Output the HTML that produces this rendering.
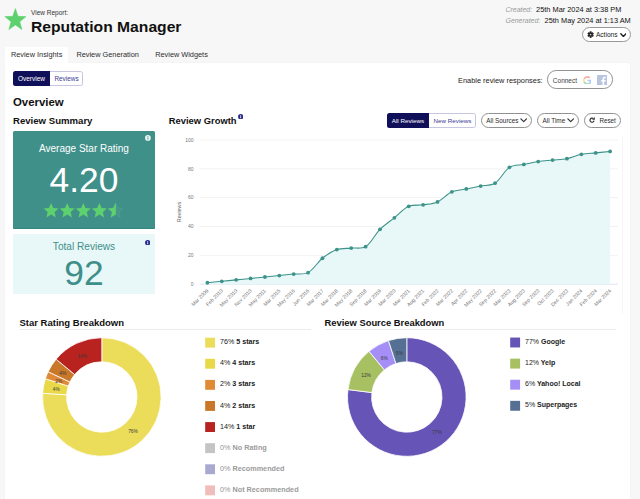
<!DOCTYPE html>
<html><head><meta charset="utf-8">
<style>
html,body{margin:0;padding:0;}
body{width:640px;height:499px;overflow:hidden;background:#f7f7f7;font-family:"Liberation Sans",sans-serif;color:#111;position:relative;}
.abs{position:absolute;white-space:nowrap;}
.card{left:5px;top:62.5px;width:625px;height:440px;background:#fff;border-radius:0 2px 0 0;box-shadow:0 0 2px rgba(0,0,0,0.05);}
.tab{top:45.5px;height:18px;line-height:18px;font-size:7.35px;color:#2e2e2e;}
.h1{font-weight:bold;font-size:14px;left:31px;top:16.7px;line-height:20px;color:#111;transform:scaleX(1.118);transform-origin:0 0;}
.h2{font-weight:bold;font-size:11.4px;line-height:12px;}
.h3{font-weight:bold;font-size:9.5px;line-height:11px;}
.pill{border:1px solid #919191;border-radius:9px;background:#fff;box-sizing:border-box;}
.pt{font-size:6.4px;line-height:9px;color:#2a2a2a;}
.lg{font-size:7.15px;font-weight:bold;line-height:11px;color:#222;}
.lg i{font-style:normal;font-weight:normal;color:#222}
.lg.r{font-size:7.0px;}
.lg.off{color:#949494;font-weight:normal;font-size:7.25px;}.lg.off b{color:#9b9b9b}
.sq{width:10px;height:10px;}
.tg{font-size:6.3px;line-height:15px;text-align:center;}
</style></head><body>
<!-- header -->
<svg class="abs" style="left:0;top:0" width="32" height="36" viewBox="0 0 32 36"><path d="M15.40,8.55 L18.10,16.33 L26.05,16.60 L19.77,21.68 L21.98,29.62 L15.40,24.98 L8.82,29.62 L11.03,21.68 L4.75,16.60 L12.70,16.33 Z" fill="#5fd06e" stroke="#5fd06e" stroke-width="0.5" stroke-linejoin="round"/></svg>
<div class="abs" style="left:31px;top:8.6px;font-size:6.5px;line-height:8px;color:#333">View Report:</div>
<div class="abs h1">Reputation Manager</div>
<div class="abs" style="left:505.5px;top:4.8px;font-size:7.38px;line-height:10px;"><span style="color:#999;font-style:italic;font-size:6.95px;">Created:</span><span style="display:inline-block;width:4px"></span>25th Mar 2024 at 3:38 PM</div>
<div class="abs" style="left:505.5px;top:15.7px;font-size:7.38px;line-height:10px;"><span style="color:#999;font-style:italic;font-size:6.95px;">Generated:</span><span style="display:inline-block;width:4.4px"></span>25th May 2024 at 1:13 AM</div>
<div class="abs pill" style="left:581.9px;top:27.3px;width:49.3px;height:14.4px;border-color:#989898"></div>
<svg class="abs" style="left:586.6px;top:30.7px" width="7.2" height="7.2" viewBox="0 0 24 24"><path fill="#222" fill-rule="evenodd" stroke="#222" stroke-width="1.4" stroke-linejoin="round" d="M19.46,13.45 L21.95,15.04 L19.61,19.09 L16.99,17.74 L14.47,19.19 L14.34,22.13 L9.66,22.13 L9.53,19.19 L7.01,17.74 L4.39,19.09 L2.05,15.04 L4.54,13.45 L4.54,10.55 L2.05,8.96 L4.39,4.91 L7.01,6.26 L9.53,4.81 L9.66,1.87 L14.34,1.87 L14.47,4.81 L16.99,6.26 L19.61,4.91 L21.95,8.96 L19.46,10.55 Z M9.10,12 a2.90,2.90 0 1,0 5.80,0 a2.90,2.90 0 1,0 -5.80,0 Z"/></svg>
<div class="abs" style="left:595.9px;top:30px;font-size:6.6px;line-height:9px;color:#222">Actions</div>
<svg class="abs" style="left:619.7px;top:32.8px" width="6.8" height="4.6" viewBox="0 0 7.4 5"><path d="M0.9 0.9 L3.7 3.7 L6.5 0.9" fill="none" stroke="#222" stroke-width="1.55" stroke-linecap="round" stroke-linejoin="round"/></svg>
<!-- tabs -->
<div class="abs" style="left:5px;top:47px;width:63px;height:17px;background:#fff;border-radius:2px 2px 0 0;"></div>
<div class="abs tab" style="left:10.9px;">Review Insights</div>
<div class="abs tab" style="left:76.4px;">Review Generation</div>
<div class="abs tab" style="left:155.2px;">Review Widgets</div>
<div class="abs card"></div>
<!-- toggles -->
<div class="abs" style="left:13px;top:70.6px;width:70px;height:15.6px;box-sizing:border-box;border:1px solid #c6c6e0;border-radius:2.5px;background:#fff;"></div>
<div class="abs tg" style="left:13px;top:70.6px;width:37px;height:15.6px;background:#10105a;border-radius:2.5px 0 0 2.5px;color:#fff;line-height:15.6px;font-size:6.5px">Overview</div>
<div class="abs tg" style="left:50px;top:70.6px;width:33px;height:15.6px;color:#3a3a94;line-height:15.6px;font-size:6.4px">Reviews</div>
<div class="abs" style="left:458px;top:75.8px;font-size:7.4px;line-height:10px;color:#222">Enable review responses:</div>
<div class="abs pill" style="left:547.2px;top:70.3px;width:66px;height:18.6px;border-radius:9.2px;border-color:#939393"></div>
<div class="abs" style="left:552.8px;top:75.5px;font-size:6.53px;line-height:9px;color:#444">Connect</div>
<!-- google G -->
<svg class="abs" style="left:582.7px;top:75.5px;opacity:0.42" width="8.8" height="8.8" viewBox="0 0 48 48"><path fill="#EA4335" d="M24 9.500c3.540 0 6.710 1.220 9.210 3.600l6.850-6.850C35.900 2.380 30.470 0 24 0 14.620 0 6.510 5.380 2.560 13.220l7.980 6.190C12.430 13.720 17.740 9.500 24 9.500z"/><path fill="#4285F4" d="M46.980 24.550c0-1.570-.15-3.090-.38-4.550H24v9.020h12.940c-.58 2.960-2.260 5.480-4.780 7.180l7.730 6c4.510-4.180 7.090-10.360 7.090-17.650z"/><path fill="#FBBC05" d="M10.530 28.590c-.48-1.450-.76-2.990-.76-4.590s.27-3.140.76-4.590l-7.980-6.190C.92 16.460 0 20.120 0 24c0 3.880.92 7.540 2.560 10.780l7.970-6.190z"/><path fill="#34A853" d="M24 48c6.480 0 11.930-2.130 15.890-5.810l-7.730-6c-2.150 1.450-4.920 2.300-8.160 2.300-6.260 0-11.570-4.220-13.470-9.910l-7.980 6.190C6.510 42.620 14.620 48 24 48z"/></svg>
<!-- fb -->
<svg class="abs" style="left:597px;top:74.6px" width="10.4" height="10.4" viewBox="0 0 20 20"><rect width="20" height="20" rx="0.8" fill="#b9c4de"/><path fill="#fff" d="M13.700 20v-7.600h2.600l.4-3h-3V7.500c0-.9.250-1.450 1.500-1.450h1.600V3.400c-.280-.040-1.230-.120-2.330-.120-2.300 0-3.870 1.400-3.870 3.980V9.400H8v3h2.600V20z"/></svg>
<div class="abs h2" style="left:13px;top:96px;">Overview</div>
<div class="abs h3" style="left:13px;top:114.9px;font-size:9.6px">Review Summary</div>
<!-- teal card -->
<div class="abs" style="left:13px;top:130.8px;width:142.1px;height:98.4px;background:#40908a;border-radius:1.5px;box-shadow:inset 0 -1px 0 #2f877f;"></div>
<div class="abs" style="left:13px;top:142.3px;width:142px;text-align:center;color:#fff;font-size:10px;line-height:13px;">Average Star Rating</div>
<div class="abs" style="left:13px;top:160.6px;width:142px;text-align:center;color:#fff;font-size:35.4px;line-height:38px;">4.20</div>
<svg class="abs" style="left:144.9px;top:135.1px" width="5.8" height="5.8" viewBox="0 0 10 10"><circle cx="5" cy="5" r="4.900" fill="#eef6f5"/><rect x="4.200" y="4.200" width="1.600" height="3.600" fill="#40908a"/><rect x="4.200" y="2.200" width="1.600" height="1.400" fill="#40908a"/></svg>
<svg class="abs" style="left:43px;top:201px" width="86" height="18" viewBox="-0.6 -1.4 86 18">
<defs><path id="st" d="M7.500 0.600 L9.700 5.600 L15 6.100 L11 9.700 L12.200 15 L7.500 12.200 L2.800 15 L4 9.700 L0 6.100 L5.300 5.600 Z"/>
<clipPath id="half"><rect x="0" y="0" width="7.900" height="16"/></clipPath></defs>
<use href="#st" x="0" fill="#5fd06e"/><use href="#st" x="16.100" fill="#5fd06e"/><use href="#st" x="32.200" fill="#5fd06e"/><use href="#st" x="48.300" fill="#5fd06e"/>
<g transform="translate(64.400,0)"><use href="#st" fill="#45978a" stroke="#4ba38d" stroke-width="0.6"/><use href="#st" fill="#5fd06e" clip-path="url(#half)"/></g>
</svg>
<!-- total card -->
<div class="abs" style="left:13px;top:234.2px;width:142.1px;height:60px;background:#e8f7f8;border-radius:1.5px;"></div>
<div class="abs" style="left:13px;top:239.900px;width:142px;text-align:center;color:#3f8f89;font-size:10.1px;line-height:13px;">Total Reviews</div>
<div class="abs" style="left:13px;top:253.9px;width:142px;text-align:center;color:#3f8f89;font-size:35.4px;line-height:38px;">92</div>
<svg class="abs" style="left:144.8px;top:239.600px" width="5.4" height="5.4" viewBox="0 0 10 10"><circle cx="5" cy="5" r="4.900" fill="#2b2b8c"/><rect x="4.200" y="4.200" width="1.600" height="3.600" fill="#fff"/><rect x="4.200" y="2.200" width="1.600" height="1.400" fill="#fff"/></svg>
<!-- growth -->
<div class="abs h3" style="left:168.8px;top:114.9px;font-size:9.4px">Review Growth</div>
<svg class="abs" style="left:237.5px;top:113.7px" width="5.4" height="5.4" viewBox="0 0 10 10"><circle cx="5" cy="5" r="4.900" fill="#2b2b8c"/><rect x="4.200" y="4.200" width="1.600" height="3.600" fill="#fff"/><rect x="4.200" y="2.200" width="1.600" height="1.400" fill="#fff"/></svg>
<div class="abs" style="left:387px;top:113.100px;width:89.300px;height:14.700px;box-sizing:border-box;border:1px solid #c6c6e0;border-radius:2.500px;background:#fff;"></div>
<div class="abs tg" style="left:387px;top:113.100px;width:41.800px;height:14.700px;background:#10105a;border-radius:2.500px 0 0 2.500px;color:#fff;line-height:16px;font-size:6.25px">All Reviews</div>
<div class="abs tg" style="left:428.800px;top:113.100px;width:47.500px;height:14.700px;color:#3a3a94;line-height:16px;font-size:6.25px">New Reviews</div>
<div class="abs pill" style="left:480.600px;top:113.200px;width:51.600px;height:14.400px;"></div>
<div class="abs pt" style="left:486.3px;top:115.9px;font-size:6.35px">All Sources</div>
<svg class="abs" style="left:519.600px;top:118.300px" width="7.400" height="5" viewBox="0 0 7.400 5"><path d="M0.900 0.900 L3.700 3.700 L6.500 0.900" fill="none" stroke="#333" stroke-width="1.200" stroke-linecap="round" stroke-linejoin="round"/></svg>
<div class="abs pill" style="left:536.800px;top:113.200px;width:42.400px;height:14.400px;"></div>
<div class="abs pt" style="left:542.500px;top:115.900px;">All Time</div>
<svg class="abs" style="left:566.600px;top:118.300px" width="7.400" height="5" viewBox="0 0 7.400 5"><path d="M0.900 0.900 L3.700 3.700 L6.500 0.900" fill="none" stroke="#333" stroke-width="1.200" stroke-linecap="round" stroke-linejoin="round"/></svg>
<div class="abs pill" style="left:583.600px;top:113.200px;width:37.300px;height:14.400px;"></div>
<svg class="abs" style="left:589px;top:117.200px" width="6" height="6" viewBox="0 0 12 12"><path d="M8.900 3.400 A4.100 4.100 0 1 0 10.100 7.200" fill="none" stroke="#333" stroke-width="2.300"/><path d="M6.200 5.300 L11.600 5.300 L11.600 0 Z" fill="#333"/></svg>
<div class="abs pt" style="left:599.4px;top:115.9px;font-size:6.3px">Reset</div>
<div class="abs" style="left:622px;top:135.600px;width:1px;height:178.700px;background:#f6f6f6"></div>
<svg class="abs" style="left:0;top:0" width="640" height="499" viewBox="0 0 640 499">
<line x1="199.5" x2="618" y1="284.2" y2="284.2" stroke="#dfe4ee" stroke-width="1"/>
<text x="193.5" y="286.0" font-size="5" fill="#777" text-anchor="end" font-family="Liberation Sans">0</text>
<line x1="199.5" x2="618" y1="255.3" y2="255.3" stroke="#f2f2f2" stroke-width="1"/>
<text x="193.5" y="257.1" font-size="5" fill="#777" text-anchor="end" font-family="Liberation Sans">20</text>
<line x1="199.5" x2="618" y1="226.5" y2="226.5" stroke="#f2f2f2" stroke-width="1"/>
<text x="193.5" y="228.3" font-size="5" fill="#777" text-anchor="end" font-family="Liberation Sans">40</text>
<line x1="199.5" x2="618" y1="197.6" y2="197.6" stroke="#f2f2f2" stroke-width="1"/>
<text x="193.5" y="199.4" font-size="5" fill="#777" text-anchor="end" font-family="Liberation Sans">60</text>
<line x1="199.5" x2="618" y1="168.8" y2="168.8" stroke="#f2f2f2" stroke-width="1"/>
<text x="193.5" y="170.6" font-size="5" fill="#777" text-anchor="end" font-family="Liberation Sans">80</text>
<line x1="199.5" x2="618" y1="139.9" y2="139.9" stroke="#f2f2f2" stroke-width="1"/>
<text x="193.5" y="141.7" font-size="5" fill="#777" text-anchor="end" font-family="Liberation Sans">100</text>
<text transform="translate(180.6,212) rotate(-90)" font-size="5.4" fill="#666" text-anchor="middle" font-family="Liberation Sans">Reviews</text>
<path d="M207.40,282.76 C212.15,282.28 217.04,281.79 221.78,281.31 C226.53,280.84 231.42,280.35 236.16,279.87 C240.91,279.39 245.80,278.90 250.55,278.43 C255.29,277.95 260.18,277.46 264.93,276.99 C269.67,276.51 274.56,276.02 279.31,275.54 C284.06,275.07 288.95,274.58 293.69,274.10 C298.44,273.62 304.14,274.83 308.08,272.66 C313.63,269.59 317.25,262.40 322.46,258.23 C326.75,254.78 331.74,251.36 336.84,249.57 C341.23,248.03 346.48,248.60 351.22,248.12 C355.97,247.65 361.89,249.10 365.60,246.68 C371.38,242.91 374.77,234.60 379.99,229.37 C384.26,225.08 389.62,221.63 394.37,217.82 C399.11,214.01 403.43,208.68 408.75,206.28 C412.92,204.39 418.42,205.54 423.13,204.83 C427.91,204.12 433.20,203.90 437.51,201.95 C442.69,199.61 446.72,194.18 451.90,191.85 C456.21,189.90 461.53,189.91 466.28,188.96 C471.02,188.01 475.91,187.03 480.66,186.08 C485.41,185.12 491.18,185.71 495.04,183.19 C500.68,179.52 503.79,170.99 509.43,167.32 C513.28,164.80 519.06,165.38 523.81,164.43 C528.55,163.48 533.41,162.26 538.19,161.55 C542.90,160.84 547.83,160.58 552.57,160.10 C557.32,159.63 562.30,159.59 566.95,158.66 C571.79,157.69 576.50,155.30 581.34,154.33 C585.99,153.40 590.97,153.36 595.72,152.89 C600.46,152.41 605.35,151.92 610.10,151.44 L610.10,284.20 L207.40,284.20 Z" fill="#e8f7f8"/>
<path d="M207.40,282.76 C212.15,282.28 217.04,281.79 221.78,281.31 C226.53,280.84 231.42,280.35 236.16,279.87 C240.91,279.39 245.80,278.90 250.55,278.43 C255.29,277.95 260.18,277.46 264.93,276.99 C269.67,276.51 274.56,276.02 279.31,275.54 C284.06,275.07 288.95,274.58 293.69,274.10 C298.44,273.62 304.14,274.83 308.08,272.66 C313.63,269.59 317.25,262.40 322.46,258.23 C326.75,254.78 331.74,251.36 336.84,249.57 C341.23,248.03 346.48,248.60 351.22,248.12 C355.97,247.65 361.89,249.10 365.60,246.68 C371.38,242.91 374.77,234.60 379.99,229.37 C384.26,225.08 389.62,221.63 394.37,217.82 C399.11,214.01 403.43,208.68 408.75,206.28 C412.92,204.39 418.42,205.54 423.13,204.83 C427.91,204.12 433.20,203.90 437.51,201.95 C442.69,199.61 446.72,194.18 451.90,191.85 C456.21,189.90 461.53,189.91 466.28,188.96 C471.02,188.01 475.91,187.03 480.66,186.08 C485.41,185.12 491.18,185.71 495.04,183.19 C500.68,179.52 503.79,170.99 509.43,167.32 C513.28,164.80 519.06,165.38 523.81,164.43 C528.55,163.48 533.41,162.26 538.19,161.55 C542.90,160.84 547.83,160.58 552.57,160.10 C557.32,159.63 562.30,159.59 566.95,158.66 C571.79,157.69 576.50,155.30 581.34,154.33 C585.99,153.40 590.97,153.36 595.72,152.89 C600.46,152.41 605.35,151.92 610.10,151.44" fill="none" stroke="#3c9389" stroke-width="1.05"/>
<circle cx="207.40" cy="282.76" r="1.9" fill="#3c9389"/>
<circle cx="221.78" cy="281.31" r="1.9" fill="#3c9389"/>
<circle cx="236.16" cy="279.87" r="1.9" fill="#3c9389"/>
<circle cx="250.55" cy="278.43" r="1.9" fill="#3c9389"/>
<circle cx="264.93" cy="276.99" r="1.9" fill="#3c9389"/>
<circle cx="279.31" cy="275.54" r="1.9" fill="#3c9389"/>
<circle cx="293.69" cy="274.10" r="1.9" fill="#3c9389"/>
<circle cx="308.08" cy="272.66" r="1.9" fill="#3c9389"/>
<circle cx="322.46" cy="258.23" r="1.9" fill="#3c9389"/>
<circle cx="336.84" cy="249.57" r="1.9" fill="#3c9389"/>
<circle cx="351.22" cy="248.12" r="1.9" fill="#3c9389"/>
<circle cx="365.60" cy="246.68" r="1.9" fill="#3c9389"/>
<circle cx="379.99" cy="229.37" r="1.9" fill="#3c9389"/>
<circle cx="394.37" cy="217.82" r="1.9" fill="#3c9389"/>
<circle cx="408.75" cy="206.28" r="1.9" fill="#3c9389"/>
<circle cx="423.13" cy="204.83" r="1.9" fill="#3c9389"/>
<circle cx="437.51" cy="201.95" r="1.9" fill="#3c9389"/>
<circle cx="451.90" cy="191.85" r="1.9" fill="#3c9389"/>
<circle cx="466.28" cy="188.96" r="1.9" fill="#3c9389"/>
<circle cx="480.66" cy="186.08" r="1.9" fill="#3c9389"/>
<circle cx="495.04" cy="183.19" r="1.9" fill="#3c9389"/>
<circle cx="509.43" cy="167.32" r="1.9" fill="#3c9389"/>
<circle cx="523.81" cy="164.43" r="1.9" fill="#3c9389"/>
<circle cx="538.19" cy="161.55" r="1.9" fill="#3c9389"/>
<circle cx="552.57" cy="160.10" r="1.9" fill="#3c9389"/>
<circle cx="566.95" cy="158.66" r="1.9" fill="#3c9389"/>
<circle cx="581.34" cy="154.33" r="1.9" fill="#3c9389"/>
<circle cx="595.72" cy="152.89" r="1.9" fill="#3c9389"/>
<circle cx="610.10" cy="151.44" r="1.9" fill="#3c9389"/>
<text transform="translate(208.9,291.2) rotate(-45)" font-size="5.15" fill="#777" text-anchor="end" font-family="Liberation Sans">Mar 2009</text>
<text transform="translate(223.3,291.2) rotate(-45)" font-size="5.15" fill="#777" text-anchor="end" font-family="Liberation Sans">Feb 2010</text>
<text transform="translate(237.7,291.2) rotate(-45)" font-size="5.15" fill="#777" text-anchor="end" font-family="Liberation Sans">May 2010</text>
<text transform="translate(252.0,291.2) rotate(-45)" font-size="5.15" fill="#777" text-anchor="end" font-family="Liberation Sans">Nov 2010</text>
<text transform="translate(266.4,291.2) rotate(-45)" font-size="5.15" fill="#777" text-anchor="end" font-family="Liberation Sans">May 2011</text>
<text transform="translate(280.8,291.2) rotate(-45)" font-size="5.15" fill="#777" text-anchor="end" font-family="Liberation Sans">Mar 2015</text>
<text transform="translate(295.2,291.2) rotate(-45)" font-size="5.15" fill="#777" text-anchor="end" font-family="Liberation Sans">May 2016</text>
<text transform="translate(309.6,291.2) rotate(-45)" font-size="5.15" fill="#777" text-anchor="end" font-family="Liberation Sans">Jun 2016</text>
<text transform="translate(324.0,291.2) rotate(-45)" font-size="5.15" fill="#777" text-anchor="end" font-family="Liberation Sans">Mar 2017</text>
<text transform="translate(338.3,291.2) rotate(-45)" font-size="5.15" fill="#777" text-anchor="end" font-family="Liberation Sans">Mar 2018</text>
<text transform="translate(352.7,291.2) rotate(-45)" font-size="5.15" fill="#777" text-anchor="end" font-family="Liberation Sans">May 2018</text>
<text transform="translate(367.1,291.2) rotate(-45)" font-size="5.15" fill="#777" text-anchor="end" font-family="Liberation Sans">Sep 2018</text>
<text transform="translate(381.5,291.2) rotate(-45)" font-size="5.15" fill="#777" text-anchor="end" font-family="Liberation Sans">Mar 2019</text>
<text transform="translate(395.9,291.2) rotate(-45)" font-size="5.15" fill="#777" text-anchor="end" font-family="Liberation Sans">Mar 2020</text>
<text transform="translate(410.3,291.2) rotate(-45)" font-size="5.15" fill="#777" text-anchor="end" font-family="Liberation Sans">Mar 2021</text>
<text transform="translate(424.6,291.2) rotate(-45)" font-size="5.15" fill="#777" text-anchor="end" font-family="Liberation Sans">Aug 2021</text>
<text transform="translate(439.0,291.2) rotate(-45)" font-size="5.15" fill="#777" text-anchor="end" font-family="Liberation Sans">Feb 2022</text>
<text transform="translate(453.4,291.2) rotate(-45)" font-size="5.15" fill="#777" text-anchor="end" font-family="Liberation Sans">Mar 2022</text>
<text transform="translate(467.8,291.2) rotate(-45)" font-size="5.15" fill="#777" text-anchor="end" font-family="Liberation Sans">Apr 2022</text>
<text transform="translate(482.2,291.2) rotate(-45)" font-size="5.15" fill="#777" text-anchor="end" font-family="Liberation Sans">May 2022</text>
<text transform="translate(496.5,291.2) rotate(-45)" font-size="5.15" fill="#777" text-anchor="end" font-family="Liberation Sans">Sep 2022</text>
<text transform="translate(510.9,291.2) rotate(-45)" font-size="5.15" fill="#777" text-anchor="end" font-family="Liberation Sans">Mar 2023</text>
<text transform="translate(525.3,291.2) rotate(-45)" font-size="5.15" fill="#777" text-anchor="end" font-family="Liberation Sans">Aug 2023</text>
<text transform="translate(539.7,291.2) rotate(-45)" font-size="5.15" fill="#777" text-anchor="end" font-family="Liberation Sans">Sep 2023</text>
<text transform="translate(554.1,291.2) rotate(-45)" font-size="5.15" fill="#777" text-anchor="end" font-family="Liberation Sans">Oct 2023</text>
<text transform="translate(568.5,291.2) rotate(-45)" font-size="5.15" fill="#777" text-anchor="end" font-family="Liberation Sans">Dec 2023</text>
<text transform="translate(582.8,291.2) rotate(-45)" font-size="5.15" fill="#777" text-anchor="end" font-family="Liberation Sans">Jan 2024</text>
<text transform="translate(597.2,291.2) rotate(-45)" font-size="5.15" fill="#777" text-anchor="end" font-family="Liberation Sans">Feb 2024</text>
<text transform="translate(611.6,291.2) rotate(-45)" font-size="5.15" fill="#777" text-anchor="end" font-family="Liberation Sans">Mar 2024</text>
</svg>
<!-- breakdowns -->
<div class="abs h3" style="left:19.5px;top:317.2px;font-size:9.5px">Star Rating Breakdown</div>
<div class="abs" style="left:19.5px;top:329px;width:291.3px;height:1px;background:#ececec"></div>
<div class="abs h3" style="left:324.5px;top:317.7px;font-size:9.38px">Review Source Breakdown</div>
<div class="abs" style="left:324.5px;top:329px;width:291.5px;height:1px;background:#ececec"></div>
<svg class="abs" style="left:0;top:0" width="640" height="499" viewBox="0 0 640 499">
<path d="M101.80,337.70 A59.30,59.30 0 1 1 42.62,393.28 L66.67,394.79 A35.20,35.20 0 1 0 101.80,361.80 Z" fill="#ebdc5a" stroke="#fff" stroke-width="0.8"/>
<text x="133.0" y="433.4" font-size="4.8" fill="#3a3a3a" text-anchor="middle" font-family="Liberation Sans">76%</text>
<path d="M42.62,393.28 A59.30,59.30 0 0 1 45.40,378.68 L68.32,386.12 A35.20,35.20 0 0 0 66.67,394.79 Z" fill="#e9d848" stroke="#fff" stroke-width="0.8"/>
<text x="56.3" y="391.1" font-size="4.8" fill="#3a3a3a" text-anchor="middle" font-family="Liberation Sans">4%</text>
<path d="M45.40,378.68 A59.30,59.30 0 0 1 48.14,371.75 L69.95,382.01 A35.20,35.20 0 0 0 68.32,386.12 Z" fill="#e08a35" stroke="#fff" stroke-width="0.8"/>
<text x="58.7" y="383.3" font-size="4.8" fill="#3a3a3a" text-anchor="middle" font-family="Liberation Sans">2%</text>
<path d="M48.14,371.75 A59.30,59.30 0 0 1 56.11,359.20 L74.68,374.56 A35.20,35.20 0 0 0 69.95,382.01 Z" fill="#c87828" stroke="#fff" stroke-width="0.8"/>
<text x="62.8" y="375.1" font-size="4.8" fill="#3a3a3a" text-anchor="middle" font-family="Liberation Sans">4%</text>
<path d="M56.11,359.20 A59.30,59.30 0 0 1 101.80,337.70 L101.80,361.80 A35.20,35.20 0 0 0 74.68,374.56 Z" fill="#b8221f" stroke="#fff" stroke-width="0.8"/>
<text x="82.2" y="358.4" font-size="4.8" fill="#3a3a3a" text-anchor="middle" font-family="Liberation Sans">14%</text>
<path d="M406.80,337.70 A59.30,59.30 0 1 1 347.97,389.57 L371.88,392.59 A35.20,35.20 0 1 0 406.80,361.80 Z" fill="#6654b6" stroke="#fff" stroke-width="0.8"/>
<text x="437.0" y="434.0" font-size="4.8" fill="#3a3a3a" text-anchor="middle" font-family="Liberation Sans">77%</text>
<path d="M347.97,389.57 A59.30,59.30 0 0 1 369.00,351.31 L384.36,369.88 A35.20,35.20 0 0 0 371.88,392.59 Z" fill="#a7c062" stroke="#fff" stroke-width="0.8"/>
<text x="366.1" y="377.1" font-size="4.8" fill="#3a3a3a" text-anchor="middle" font-family="Liberation Sans">12%</text>
<path d="M369.00,351.31 A59.30,59.30 0 0 1 388.48,340.60 L395.92,363.52 A35.20,35.20 0 0 0 384.36,369.88 Z" fill="#a58ff7" stroke="#fff" stroke-width="0.8"/>
<text x="384.2" y="360.1" font-size="4.8" fill="#3a3a3a" text-anchor="middle" font-family="Liberation Sans">6%</text>
<path d="M388.48,340.60 A59.30,59.30 0 0 1 406.80,337.70 L406.80,361.80 A35.20,35.20 0 0 0 395.92,363.52 Z" fill="#567094" stroke="#fff" stroke-width="0.8"/>
<text x="399.5" y="354.6" font-size="4.8" fill="#3a3a3a" text-anchor="middle" font-family="Liberation Sans">5%</text>
</svg>
<svg class="abs" style="left:0;top:0" width="640" height="499" viewBox="0 0 640 499"><rect x="205.2" y="337.70" width="9.8" height="9.9" fill="#ebdc5a"/><rect x="205.2" y="358.80" width="9.8" height="9.9" fill="#e9d848"/><rect x="205.2" y="379.90" width="9.8" height="9.9" fill="#e08a35"/><rect x="205.2" y="401.00" width="9.8" height="9.9" fill="#c87828"/><rect x="205.2" y="422.10" width="9.8" height="9.9" fill="#b8221f"/><rect x="205.2" y="443.20" width="9.8" height="9.9" fill="#c4c4c4"/><rect x="205.2" y="464.30" width="9.8" height="9.9" fill="#a9a9d0"/><rect x="205.2" y="485.40" width="9.8" height="9.9" fill="#f0bcbc"/><rect x="510.2" y="337.55" width="9.9" height="9.9" fill="#6654b6"/><rect x="510.2" y="358.65" width="9.9" height="9.9" fill="#a7c062"/><rect x="510.2" y="379.75" width="9.9" height="9.9" fill="#a58ff7"/><rect x="510.2" y="400.85" width="9.9" height="9.9" fill="#567094"/></svg>
<div class="abs lg" style="left:220px;top:337.25px;"><i>76%</i> 5 stars</div>
<div class="abs lg" style="left:220px;top:358.35px;"><i>4%</i> 4 stars</div>
<div class="abs lg" style="left:220px;top:379.45px;"><i>2%</i> 3 stars</div>
<div class="abs lg" style="left:220px;top:400.55px;"><i>4%</i> 2 stars</div>
<div class="abs lg" style="left:220px;top:421.65px;"><i>14%</i> 1 star</div>
<div class="abs lg off" style="left:220px;top:441.95px;">0% <b>No Rating</b></div>
<div class="abs lg off" style="left:220px;top:463.05px;">0% <b>Recommended</b></div>
<div class="abs lg off" style="left:220px;top:484.15px;">0% <b>Not Recommended</b></div>
<div class="abs lg r" style="left:525px;top:336.15px;"><i>77%</i> Google</div>
<div class="abs lg r" style="left:525px;top:357.25px;"><i>12%</i> Yelp</div>
<div class="abs lg r" style="left:525px;top:378.35px;"><i>6%</i> Yahoo! Local</div>
<div class="abs lg r" style="left:525px;top:399.45px;"><i>5%</i> Superpages</div>
</body></html>
